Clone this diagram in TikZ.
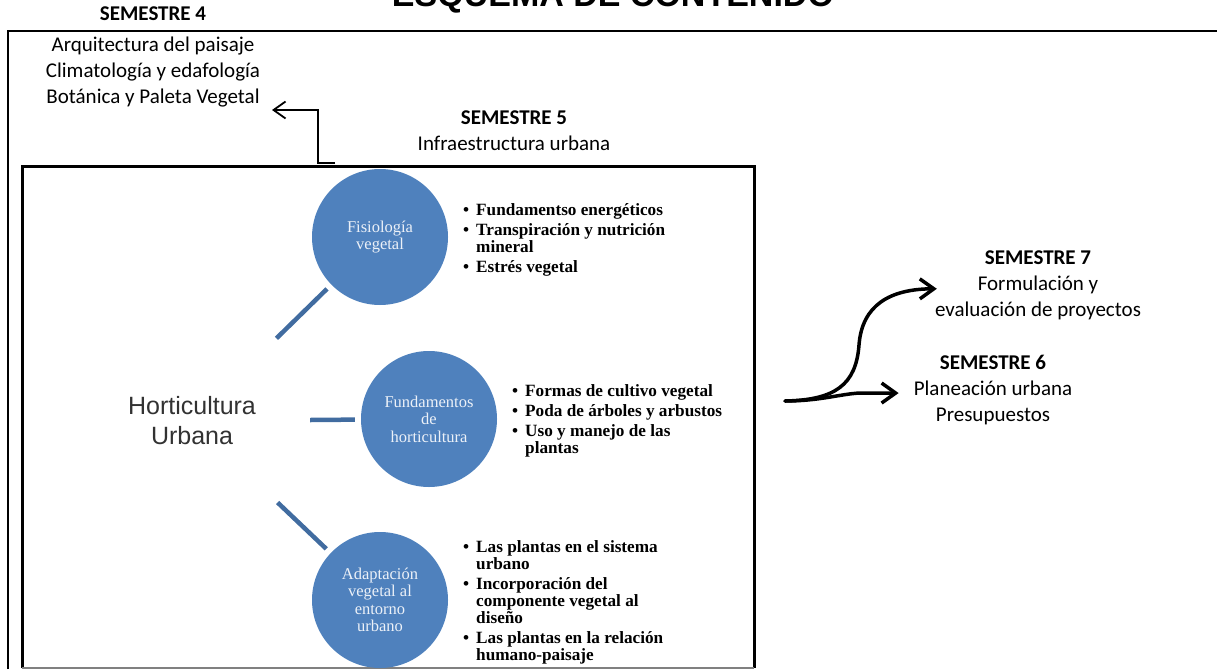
\documentclass[tikz,border=0pt]{standalone}
\usepackage{fontspec}
\setmainfont{Liberation Serif}
\newfontfamily\calibri{Carlito}
\newfontfamily\arialf{Liberation Sans}
\usetikzlibrary{arrows.meta}
\definecolor{circblue}{RGB}{79,129,189}
\definecolor{linkblue}{RGB}{65,108,160}
\definecolor{circtext}{RGB}{236,241,248}
\definecolor{hortgray}{RGB}{50,50,50}
\newcommand{\semfont}{\calibri\fontsize{21}{26}\selectfont}
\newcommand{\listfont}{\bfseries\fontsize{17.2}{16.8}\selectfont}

\begin{document}
\begin{tikzpicture}[x=1pt,y=-1pt,
  topic/.style={circle,fill=circblue,minimum size=136pt,inner sep=0pt,
    text=circtext,align=center,font=\fontsize{16.5}{17.5}\selectfont},
  items/.style={anchor=north west,inner sep=0pt,font=\listfont},
  semtext/.style={anchor=north,inner sep=0pt,align=center,font=\semfont},
  link/.style={draw=linkblue,line width=4.5pt,shorten >=6pt},
  bigarrow/.style={line width=3.5pt,line cap=round,
    -{Straight Barb[length=14pt,width=20pt]}}]
  \useasboundingbox (0,0) rectangle (1217,669);
  \clip (0,0) rectangle (1217,669);

  % frames
  \draw[line width=2.5pt] (8,669) -- (8,31) -- (1230,31);
  \draw[line width=3pt] (22,668) -- (22,166) -- (754,166) -- (754,668);
  \draw[gray,line width=1.5pt] (22,668) -- (754,668);

  \node[anchor=base,font=\arialf\bfseries\fontsize{34}{34}\selectfont]
    (title) at (613,7) {ESQUEMA DE CONTENIDO};

  % semesters
  \node[semtext] (s4) at (153,7) {\textbf{SEMESTRE 4}\\[5pt]
    Arquitectura del paisaje\\ Climatología y edafología\\
    Botánica y Paleta Vegetal};
  \node[semtext] (s5) at (514,111) {\textbf{SEMESTRE 5}\\ Infraestructura urbana};
  \node[semtext] (s7) at (1038,251) {\textbf{SEMESTRE 7}\\ Formulación y\\
    evaluación de proyectos};
  \node[semtext] (s6) at (993,355) {\textbf{SEMESTRE 6}\\ Planeación urbana\\
    Presupuestos};

  % centre and topics
  \node[circle,minimum size=236pt,inner sep=0pt,align=center,text=hortgray,
    font=\arialf\fontsize{25}{30}\selectfont] (hort) at (192,421)
    {Horticultura\\ Urbana};
  \node[topic] (fis) at (380,237) {Fisiología\\ vegetal};
  \node[topic] (fun) at (429,419) {Fundamentos\\ de\\ horticultura};
  \node[topic] (ada) at (380,600) {Adaptación\\ vegetal al\\ entorno\\ urbano};

  \draw[link] (hort) -- (fis);
  \draw[link] (hort) -- (fun);
  \draw[link] (hort) -- (ada);

  \node[items] (fisl) at (463,203) {\begin{tabular}{@{}c@{\hspace{7pt}}l@{}}
    \textbullet & Fundamentso energéticos\\[3pt]
    \textbullet & Transpiración y nutrición\\
     & mineral\\[3pt]
    \textbullet & Estrés vegetal
    \end{tabular}};
  \node[items] (funl) at (512,384) {\begin{tabular}{@{}c@{\hspace{7pt}}l@{}}
    \textbullet & Formas de cultivo vegetal\\[3pt]
    \textbullet & Poda de árboles y arbustos\\[3pt]
    \textbullet & Uso y manejo de las\\
     & plantas
    \end{tabular}};
  \node[items] (adal) at (463,540) {\begin{tabular}{@{}c@{\hspace{7pt}}l@{}}
    \textbullet & Las plantas en el sistema\\
     & urbano\\[3pt]
    \textbullet & Incorporación del\\
     & componente vegetal al\\
     & diseño\\[3pt]
    \textbullet & Las plantas en la relación\\
     & humano-paisaje
    \end{tabular}};

  % arrows
  \coordinate (p5) at (335,163);
  \coordinate (a4) at (272,110);
  \draw[line width=1.8pt,-{Straight Barb[length=12pt,width=17pt]}]
    (p5) -- ++(-17,0) |- (a4);

  \coordinate (fork) at (785,401);
  \draw[bigarrow] (fork) .. controls (835,400) and (856,385) .. (859,345)
    .. controls (862,305) and (890,289) .. ([xshift=2pt,yshift=-3pt]s7.west);
  \draw[bigarrow] (fork) .. controls (820,401) and (840,394) .. (860,393)
    -- ([xshift=-15pt,yshift=-3pt]s6.west);
\end{tikzpicture}
\end{document}
